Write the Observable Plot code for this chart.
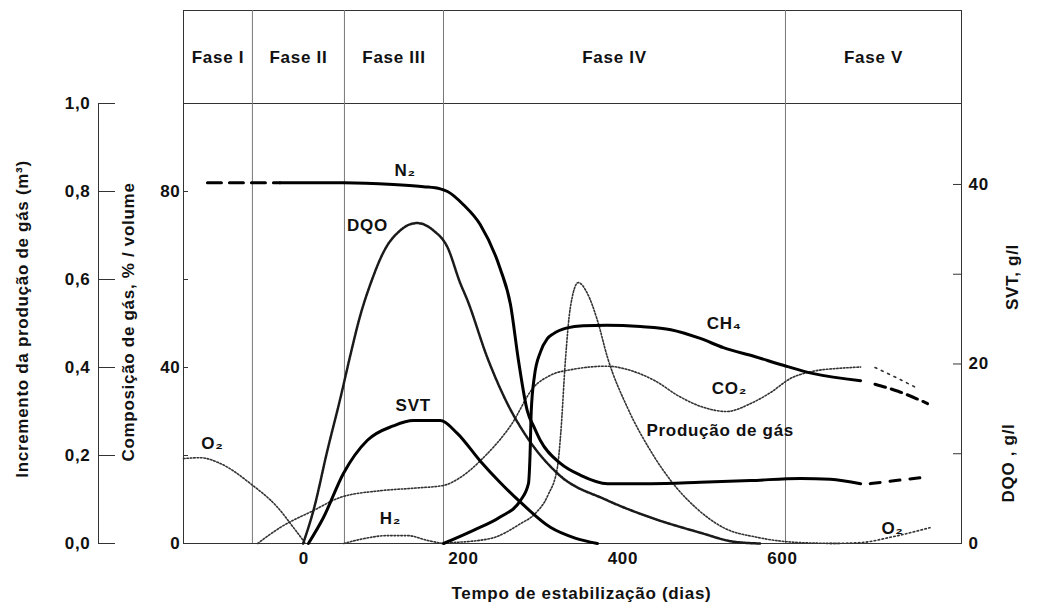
<!DOCTYPE html>
<html><head><meta charset="utf-8">
<script src="https://cdn.jsdelivr.net/npm/d3@7"></script>
<script src="https://cdn.jsdelivr.net/npm/@observablehq/plot@0.6"></script>
<style>
body{margin:0;background:#fff;}
#chart svg{display:block;}
#chart text{letter-spacing:0.7px;}
</style></head><body><div id="chart"></div>
<script>
// ---- categories / ticks ----
const phaseNames = ["Fase I","Fase II","Fase III","Fase IV","Fase V"];
const phaseBounds = [-151, -64.6, 50.8, 175, 603.8, 824.5];   // dias
const xTicks = [0, 200, 400, 600];
const gasTicks = [0, 20, 40, 60, 80];                 // % volume
const gasTickLabels = ["0", "", "40", "", "80"];
const prodTicks = [0, 0.2, 0.4, 0.6, 0.8, 1.0];        // m³
const prodTickLabels = ["0,0", "0,2", "0,4", "0,6", "0,8", "1,0"];
const glTicks = [0, 10, 20, 30, 40];                   // g/l
const glTickLabels = ["0", "", "20", "", "40"];

// ---- series: [dias, valor] ----
// N2 (% volume)
const n2Dashed = [[-121, 82], [-30, 82]];
const n2Solid = [[-30, 82], [50, 82], [112, 81.6], [150, 81.1], [171, 80.6], [180, 80], [200, 77], [221, 72.5],
  [246, 62.5], [259, 54.3], [269, 41.6], [280, 30.2], [289, 26.3], [296.5, 23.4], [321.6, 18.2], [347, 15.5],
  [380.6, 13.6], [434.5, 13.6], [497, 13.9], [560, 14.3], [622.6, 14.8], [660, 14.6], [698, 13.6]];
const n2Tail = [[710, 13.6], [742, 14.3], [776, 15.0]];
// CH4 (% volume)
const ch4Solid = [[175, 0], [212.5, 3.0], [246, 6.0], [271.5, 9.8], [281.5, 13.6], [283.5, 20], [285, 30], [289, 38],
  [296.5, 43.5], [305, 46.5], [313, 47.7], [330, 49], [350, 49.5], [380, 49.6], [422, 49.3], [460, 48.6],
  [497, 46.6], [526, 44.5], [565, 42.5], [601, 40.5], [639, 38.6], [698, 37.0]];
const ch4Tail = [[716, 36.2], [745, 34.6], [782, 31.8]];
// CO2 (% volume)
const co2 = [[-58, 0], [-30, 3.6], [12, 7.5], [46, 10.5], [96, 12.0], [140, 12.6], [175, 13.2], [196, 15.0],
  [225, 19.5], [260, 27], [288, 35.5], [310, 38.3], [338, 39.6], [380, 40.3], [410, 39.3], [440, 37],
  [470, 33.5], [500, 31], [530, 30.0], [560, 31.8], [585, 34.3], [610, 37.5], [640, 39.2], [670, 39.8], [698, 40.1]];
const co2Tail = [[716, 40.0], [745, 37.5], [770, 35.2]];
// O2 (% volume)
const o2Start = [[-151, 19.3], [-130, 19.5], [-105, 18.2], [-67, 13.6], [-33, 8.2], [-13, 3.6], [2, 0]];
const o2End = [[660, 0], [698, 0.2], [735, 1.4], [785, 3.6]];
// H2 (% volume)
const h2 = [[50, 0], [75, 1.1], [105, 1.8], [130, 1.8], [155, 0.7], [174, 0]];
// SVT (g/l)
const svt = [[5.6, 0], [24.5, 2.9], [49.5, 7.8], [79.6, 11.5], [112, 13.1], [137, 13.7], [171, 13.7], [192, 12.3],
  [221, 9.2], [246, 6.8], [271.5, 4.6], [309, 1.8], [340, 0.6], [368, 0]];
// DQO (g/l)
const dqo = [[-1, 0], [12, 3.7], [29.5, 10.4], [46, 16.3], [58, 20.9], [70, 25.2], [85, 29.3], [100, 32.5],
  [121, 34.9], [142, 35.7], [162, 34.9], [180, 33.0], [196, 29.0], [205, 27.1], [230, 20.7], [255, 15.6],
  [280, 11.8], [318, 7.8], [380.6, 4.8], [434.5, 2.9], [497, 1.2], [538.6, 0.2], [572, 0]];
// Produção de gás (m³)
const gas = [[184, 0.002], [233, 0.011], [271.5, 0.045], [290, 0.068], [306, 0.11], [317.8, 0.173], [322, 0.25],
  [328, 0.42], [334, 0.536], [344, 0.593], [355.5, 0.568], [368, 0.507], [380.6, 0.423], [405.6, 0.309],
  [434.5, 0.211], [463, 0.136], [491, 0.082], [526, 0.036], [568.6, 0.014], [622.6, 0.002], [672, 0]];

// ---- curve labels ----
const curveLabelText = ["N₂", "DQO", "SVT", "O₂", "H₂", "CH₄", "CO₂", "Produção de gás", "O₂"];
const curveLabelX = [127, 79.6, 137, -114.7, 108.5, 527, 533.5, 522, 738];
const curveLabelY = [84.8, 72.3, 31.4, 22.7, 5.7, 50, 35.2, 25.7, 3.4];

// ---- layout ----
const W = 1039, H = 611, mL = 183, mR = 78, mT = 10, mB = 68;
const plotW = W - mL - mR;
const GL = 2.04;   // g/l -> % position
const M3 = 100;    // m³ -> % position
const FS = 17;

const rows = (arr, k = 1) => arr.map(([d, v]) => ({d, v: v * k}));
const thick = {x: "d", y: "v", stroke: "#000", strokeWidth: 3, curve: "monotone-x"};
const dotted = {x: "d", y: "v", stroke: "#333", strokeWidth: 1.6, strokeDasharray: "1.6,1.8", curve: "monotone-x"};
const titleOpts = {text: d => d, fontSize: FS, fontWeight: "bold", textAnchor: "middle", lineAnchor: "middle"};

const chart = Plot.plot({
  width: W, height: H,
  marginLeft: mL, marginRight: mR, marginTop: mT, marginBottom: mB,
  x: {domain: [phaseBounds[0], phaseBounds[phaseBounds.length - 1]]},
  y: {domain: [0, (H - mT - mB) / 4.4]},
  style: {fontFamily: "'Liberation Sans', Arial, sans-serif", fontWeight: "bold", fontSize: FS + "px", color: "#111", background: "#fff"},
  marks: [
    Plot.frame({stroke: "#333"}),
    Plot.ruleY([100], {stroke: "#333"}),
    Plot.ruleX(phaseBounds.slice(1, -1), {stroke: "#777"}),
    Plot.text(phaseNames, {x: (d, i) => (phaseBounds[i] + phaseBounds[i + 1]) / 2, y: 110.45, text: d => d, fontSize: FS, fontWeight: "bold", fill: "#111"}),

    // series
    Plot.line(rows(o2Start), dotted),
    Plot.line(rows(o2End), {...dotted, strokeDasharray: "1.6,2.4"}),
    Plot.line(rows(h2), dotted),
    Plot.line(rows(co2), dotted),
    Plot.line(rows(co2Tail), {...dotted, strokeDasharray: "2,5"}),
    Plot.line(rows(gas, M3), dotted),
    Plot.line(rows(dqo, GL), {x: "d", y: "v", stroke: "#1a1a1a", strokeWidth: 2.5, strokeDasharray: "2,1", curve: "monotone-x"}),
    Plot.line(rows(svt, GL), thick),
    Plot.line(rows(ch4Solid), thick),
    Plot.line(rows(ch4Tail), {...thick, strokeDasharray: "11,6"}),
    Plot.line(rows(n2Dashed), {...thick, strokeDasharray: "14,8"}),
    Plot.line(rows(n2Solid), thick),
    Plot.line(rows(n2Tail), {...thick, strokeDasharray: "10,10"}),

    // curve labels
    Plot.text(curveLabelText, {x: (d, i) => curveLabelX[i], y: (d, i) => curveLabelY[i], text: d => d, fontSize: FS, fontWeight: "bold", fill: "#111"}),

    // x axis
    Plot.axisX(xTicks, {tickSize: 0, tickPadding: 8, fontSize: FS, fontWeight: "bold", label: null}),
    Plot.text(["Tempo de estabilização (dias)"], {...titleOpts, frameAnchor: "bottom", dx: 9, dy: 50}),

    // middle left axis (% volume)
    Plot.tickY(gasTicks, {y: d => d, insetRight: plotW - 5, stroke: "#333"}),
    Plot.axisY(gasTicks, {anchor: "left", tickSize: 0, tickPadding: 3, tickFormat: d => gasTickLabels[gasTicks.indexOf(d)], fontSize: FS, fontWeight: "bold", label: null}),
    Plot.text(["Composição de gás, % / volume"], {...titleOpts, frameAnchor: "left", dx: -55, dy: 45, rotate: -90}),

    // outer left axis (m³)
    Plot.ruleX([phaseBounds[0]], {y1: 0, y2: 1.0 * M3, dx: -85, stroke: "#333"}),
    Plot.tickY(prodTicks, {y: d => d * M3, insetLeft: -85, insetRight: plotW + 68, stroke: "#333"}),
    Plot.text(prodTicks, {y: d => d * M3, frameAnchor: "left", dx: -93, textAnchor: "end", text: (d, i) => prodTickLabels[i], fontSize: FS, fontWeight: "bold"}),
    Plot.text(["Incremento da produção de gás (m³)"], {...titleOpts, frameAnchor: "left", dx: -161, dy: 42, rotate: -90}),

    // right axis (g/l)
    Plot.tickY(glTicks, {y: d => d * GL, insetLeft: plotW - 8, stroke: "#333"}),
    Plot.axisY(glTicks.map(v => v * GL), {anchor: "right", tickSize: 0, tickPadding: 7, tickFormat: d => glTickLabels[glTicks.findIndex(v => Math.abs(v * GL - d) < 1e-9)], fontSize: FS, fontWeight: "bold", label: null}),
    Plot.text(["SVT, g/l"], {...titleOpts, frameAnchor: "right", dx: 51, dy: 0, rotate: -90}),
    Plot.text(["DQO , g/l"], {...titleOpts, frameAnchor: "right", dx: 47, dy: 186, rotate: -90})
  ]
});
document.getElementById("chart").appendChild(chart);
</script></body></html>
